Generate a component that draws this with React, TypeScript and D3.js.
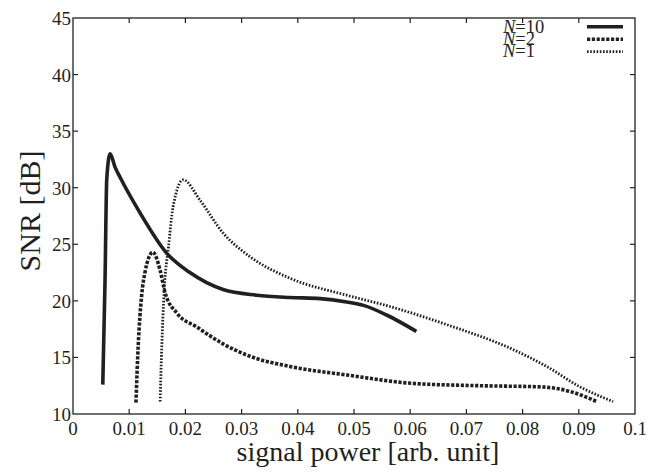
import React from "react";
import * as d3 from "d3";

const xTicks = [0, 0.01, 0.02, 0.03, 0.04, 0.05, 0.06, 0.07, 0.08, 0.09, 0.1];
const xTickLabels = ["0", "0.01", "0.02", "0.03", "0.04", "0.05", "0.06", "0.07", "0.08", "0.09", "0.1"];
const yTicks = [10, 15, 20, 25, 30, 35, 40, 45];

// N=10 (solid)
const n10X = [0.0053, 0.0057, 0.006, 0.0066, 0.0075, 0.0084, 0.0119, 0.0167, 0.0208, 0.0267, 0.0327, 0.0386, 0.0440, 0.0487, 0.0517, 0.0558, 0.0611];
const n10Y = [12.6, 21.8, 30.7, 33.0, 31.8, 30.9, 27.8, 24.2, 22.5, 21.0, 20.5, 20.3, 20.2, 19.9, 19.6, 18.75, 17.3];

// N=2 (dashed)
const n2X = [0.0112, 0.0116, 0.0122, 0.0128, 0.0142, 0.0155, 0.0164, 0.0185, 0.022, 0.0267, 0.0315, 0.0386, 0.0487, 0.0606, 0.0724, 0.0831, 0.0884, 0.0932];
const n2Y = [11.0, 16.0, 20.4, 22.5, 24.3, 22.7, 20.7, 18.9, 17.7, 16.2, 15.1, 14.2, 13.45, 12.7, 12.5, 12.4, 12.0, 11.1];

// N=1 (dotted)
const n1X = [0.0155, 0.0158, 0.0162, 0.017, 0.0178, 0.0196, 0.0226, 0.0267, 0.0315, 0.0386, 0.0487, 0.0564, 0.0665, 0.0783, 0.0843, 0.0902, 0.0961];
const n1Y = [11.1, 16.0, 20.7, 24.8, 28.3, 30.7, 28.9, 26.0, 23.9, 22.0, 20.5, 19.5, 17.9, 15.7, 14.2, 12.4, 11.1];

const legendLabels = ["10", "2", "1"];

const W = 662, H = 472;
const L = 73, R = 635, T = 18, B = 414;
const font = "'Liberation Serif', 'Times New Roman', serif";
const ink = "#231f20";

export default function App() {
  const x = d3.scaleLinear().domain([0, 0.1]).range([L, R]);
  const y = d3.scaleLinear().domain([10, 45]).range([B, T]);
  const line = d3
    .line<[number, number]>()
    .x((d) => x(d[0]))
    .y((d) => y(d[1]))
    .curve(d3.curveMonotoneX);
  const zip = (a: number[], b: number[]) => a.map((v, i) => [v, b[i]] as [number, number]);

  const series = [
    { data: zip(n10X, n10Y), dash: "none", w: 3.6 },
    { data: zip(n2X, n2Y), dash: "3.2,1.6", w: 3.6 },
    { data: zip(n1X, n1Y), dash: "1.6,1.6", w: 2.8 },
  ];

  return (
    <svg width={W} height={H} style={{ display: "block", position: "absolute", left: 0, top: 0 }}>
      <rect x={0} y={0} width={W} height={H} fill="#fff" />
      {series.map((s, i) => (
        <path key={i} d={line(s.data) || ""} fill="none" stroke={ink} strokeWidth={s.w} strokeDasharray={s.dash} />
      ))}
      <rect x={L} y={T} width={R - L} height={B - T} fill="none" stroke={ink} strokeWidth={1.3} />
      {xTicks.map((t, i) => (
        <g key={"x" + i}>
          {i > 0 && i < xTicks.length - 1 && (
            <>
              <line x1={x(t)} x2={x(t)} y1={B} y2={B - 5} stroke={ink} strokeWidth={1.2} />
              <line x1={x(t)} x2={x(t)} y1={T} y2={T + 5} stroke={ink} strokeWidth={1.2} />
            </>
          )}
          <text x={x(t)} y={B + 21} textAnchor="middle" fontFamily={font} fontSize={19} fill={ink}>
            {xTickLabels[i]}
          </text>
        </g>
      ))}
      {yTicks.map((t, i) => (
        <g key={"y" + i}>
          {i > 0 && i < yTicks.length - 1 && (
            <>
              <line x1={L} x2={L + 5} y1={y(t)} y2={y(t)} stroke={ink} strokeWidth={1.2} />
              <line x1={R} x2={R - 5} y1={y(t)} y2={y(t)} stroke={ink} strokeWidth={1.2} />
            </>
          )}
          <text x={L - 2} y={y(t) + 7} textAnchor="end" fontFamily={font} fontSize={19} fill={ink}>
            {t}
          </text>
        </g>
      ))}
      <text x={368} y={461} textAnchor="middle" fontFamily={font} fontSize={28} fill={ink}>
        signal power [arb. unit]
      </text>
      <text
        transform={`translate(40, 211) rotate(-90)`}
        textAnchor="middle"
        fontFamily={font}
        fontSize={30}
        fill={ink}
      >
        SNR [dB]
      </text>
      {legendLabels.map((lab, i) => (
        <g key={"l" + i}>
          <text x={503} y={33 + i * 12} fontFamily={font} fontSize={18.5} fill={ink}>
            <tspan fontStyle="italic">N</tspan>={lab}
          </text>
          <line
            x1={587}
            x2={623}
            y1={26.7 + i * 12.5}
            y2={26.7 + i * 12.5}
            stroke={ink}
            strokeWidth={series[i].w}
            strokeDasharray={series[i].dash}
          />
        </g>
      ))}
    </svg>
  );
}
